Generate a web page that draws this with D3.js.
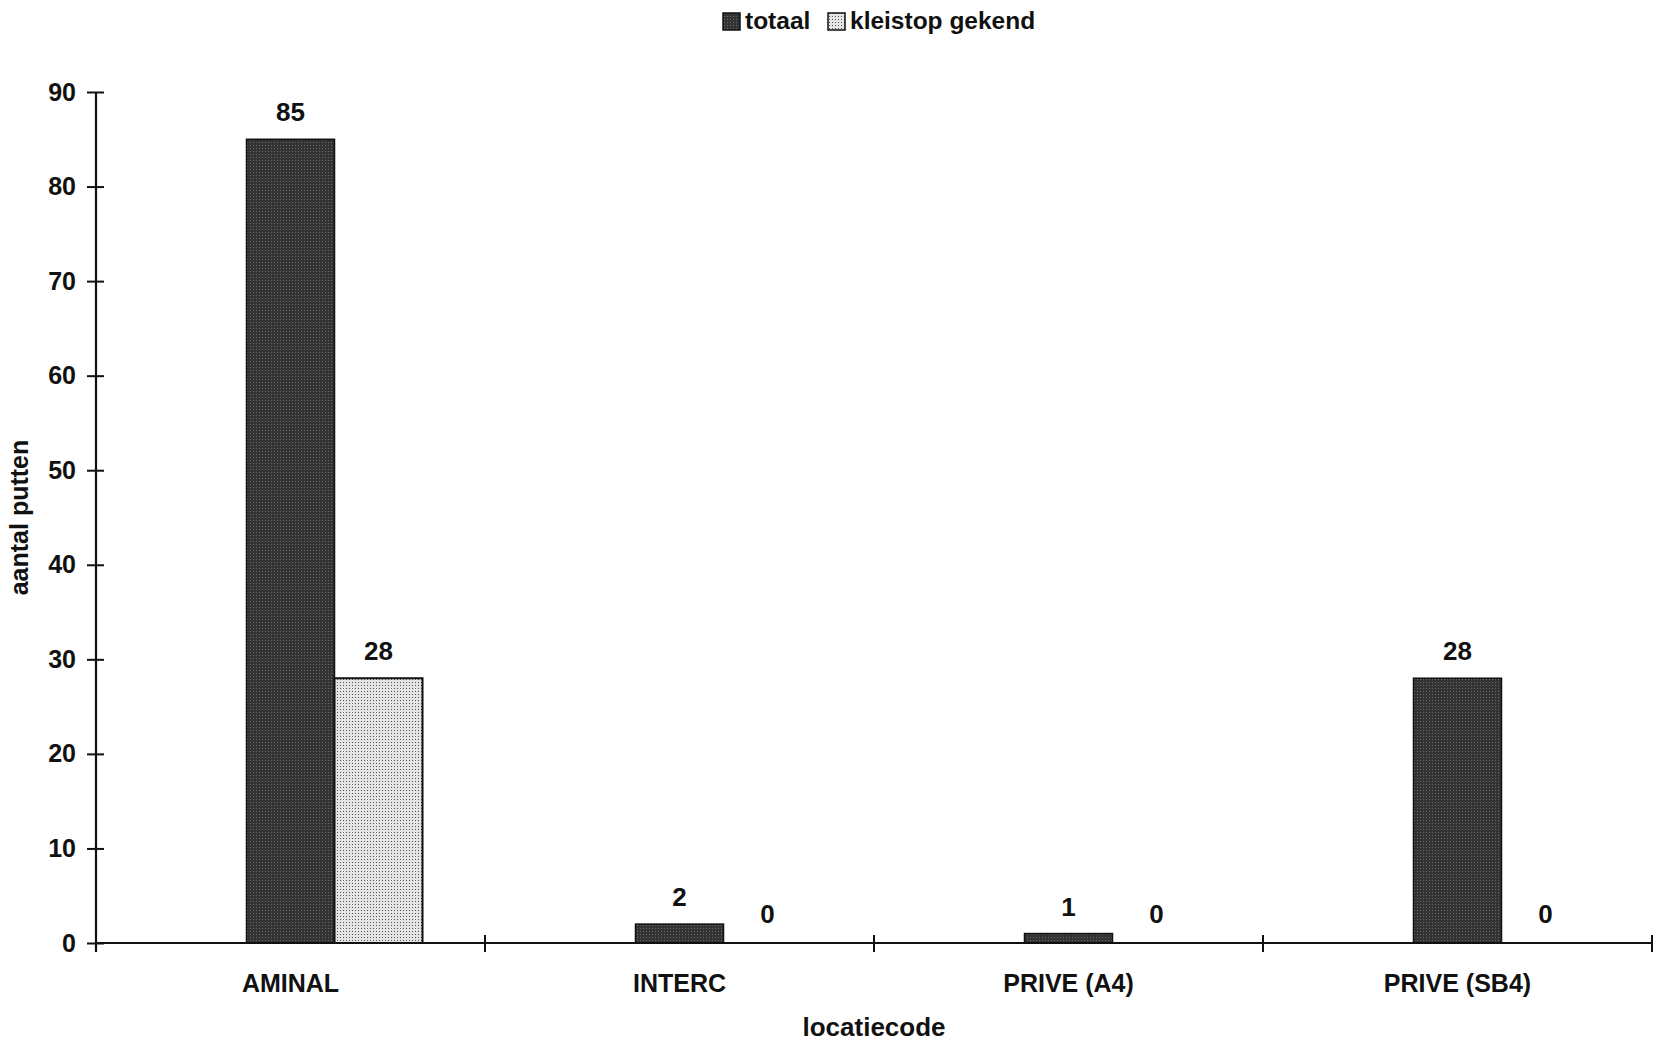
<!DOCTYPE html>
<html>
<head>
<meta charset="utf-8">
<script src="https://cdn.jsdelivr.net/npm/d3@7"></script>
<style>
  html, body { margin: 0; padding: 0; background: #fff; }
  svg text { font-family: "Liberation Sans", Arial, sans-serif; font-weight: bold; fill: #111; }
</style>
</head>
<body>
<svg id="chart" width="1660" height="1044"></svg>
<script>
// ---- data ----
const categories = ["AMINAL", "INTERC", "PRIVE (A4)", "PRIVE (SB4)"];
const seriesNames = ["totaal", "kleistop gekend"];
const totaal = [85, 2, 1, 28];
const kleistopGekend = [28, 0, 0, 0];
const yTicks = [0, 10, 20, 30, 40, 50, 60, 70, 80, 90];
const yTitle = "aantal putten";
const xTitle = "locatiecode";

const seriesValues = [totaal, kleistopGekend];

// ---- setup ----
const svg = d3.select("#chart");
const plot = { left: 96, right: 1652, top: 92, bottom: 943 };

const defs = svg.append("defs");
const pDark = defs.append("pattern").attr("id", "pat-dark")
  .attr("patternUnits", "userSpaceOnUse").attr("width", 3).attr("height", 3);
pDark.append("rect").attr("width", 3).attr("height", 3).attr("fill", "#333");
pDark.append("rect").attr("x", 1).attr("y", 1).attr("width", 1).attr("height", 1).attr("fill", "#6a6a6a");

const pLight = defs.append("pattern").attr("id", "pat-light")
  .attr("patternUnits", "userSpaceOnUse").attr("width", 3).attr("height", 3);
pLight.append("rect").attr("width", 3).attr("height", 3).attr("fill", "#e4e4e4");
pLight.append("rect").attr("x", 1).attr("y", 1).attr("width", 1).attr("height", 1).attr("fill", "#555");

const fills = ["url(#pat-dark)", "url(#pat-light)"];

// scales
const y = d3.scaleLinear().domain([0, 90]).range([plot.bottom, plot.top]);
const x0 = d3.scaleBand().domain(categories).range([plot.left, plot.right]).padding(0);
// three slots per category: an empty leading slot, then the two series
const slots = ["_leeg"].concat(seriesNames);
const x1 = d3.scaleBand().domain(slots).range([0, x0.bandwidth()])
  .paddingInner(0).paddingOuter(0.71);

// ---- bars ----
const rows = [];
categories.forEach((c, i) => {
  seriesNames.forEach((s, j) => {
    rows.push({ cat: c, series: s, si: j, value: seriesValues[j][i] });
  });
});

const barG = svg.append("g");
barG.selectAll("rect").data(rows.filter(d => d.value > 0)).join("rect")
  .attr("x", d => x0(d.cat) + x1(d.series))
  .attr("y", d => y(d.value))
  .attr("width", x1.bandwidth())
  .attr("height", d => y(0) - y(d.value))
  .attr("fill", d => fills[d.si])
  .attr("stroke", "#111")
  .attr("stroke-width", d => d.si === 1 ? 2 : 1.5);

// data labels
svg.append("g").selectAll("text").data(rows).join("text")
  .attr("x", d => x0(d.cat) + x1(d.series) + x1.bandwidth() / 2)
  .attr("y", d => y(d.value) - (d.value === 0 ? 20 : 18))
  .attr("text-anchor", "middle")
  .style("font-size", "26px")
  .text(d => d.value);

// ---- y axis ----
const yAxisG = svg.append("g").attr("transform", `translate(${plot.left},0)`)
  .call(d3.axisLeft(y).tickValues(yTicks).tickSizeInner(9).tickSizeOuter(0).tickPadding(11));
yAxisG.select(".domain").remove();
yAxisG.selectAll(".tick line").attr("x1", 8).attr("x2", -9).attr("stroke", "#111").attr("stroke-width", 2);
yAxisG.selectAll(".tick text").style("font-size", "25px").attr("fill", "#111");
svg.append("line")
  .attr("x1", plot.left).attr("x2", plot.left)
  .attr("y1", y(90)).attr("y2", y(0) + 9)
  .attr("stroke", "#111").attr("stroke-width", 2.2);

// ---- x axis ----
svg.append("line")
  .attr("x1", x0.range()[0]).attr("x2", x0.range()[1])
  .attr("y1", y(0)).attr("y2", y(0))
  .attr("stroke", "#111").attr("stroke-width", 2.2);
svg.append("g").selectAll("line").data(categories).join("line")
  .attr("x1", d => x0(d) + x0.bandwidth()).attr("x2", d => x0(d) + x0.bandwidth())
  .attr("y1", y(0) - 8).attr("y2", y(0) + 9)
  .attr("stroke", "#111").attr("stroke-width", 2);
svg.append("g").selectAll("text").data(categories).join("text")
  .attr("x", d => x0(d) + x0.bandwidth() / 2)
  .attr("y", 992)
  .attr("text-anchor", "middle")
  .style("font-size", "25px")
  .text(d => d);

// ---- titles ----
svg.append("text")
  .attr("x", (plot.left + plot.right) / 2)
  .attr("y", 1036)
  .attr("text-anchor", "middle")
  .style("font-size", "26px")
  .text(xTitle);

svg.append("text")
  .attr("transform", `translate(28,${(plot.top + plot.bottom) / 2}) rotate(-90)`)
  .attr("text-anchor", "middle")
  .style("font-size", "25px")
  .text(yTitle);

// ---- legend ----
const legend = svg.append("g");
const legItems = [
  { name: seriesNames[0], x: 723, fill: fills[0] },
  { name: seriesNames[1], x: 828, fill: fills[1] }
];
legItems.forEach(it => {
  legend.append("rect").attr("x", it.x).attr("y", 13).attr("width", 17).attr("height", 17)
    .attr("fill", it.fill).attr("stroke", "#111").attr("stroke-width", 1.5);
  legend.append("text").attr("x", it.x + 22).attr("y", 29)
    .style("font-size", "24.5px").text(it.name);
});
</script>
</body>
</html>
